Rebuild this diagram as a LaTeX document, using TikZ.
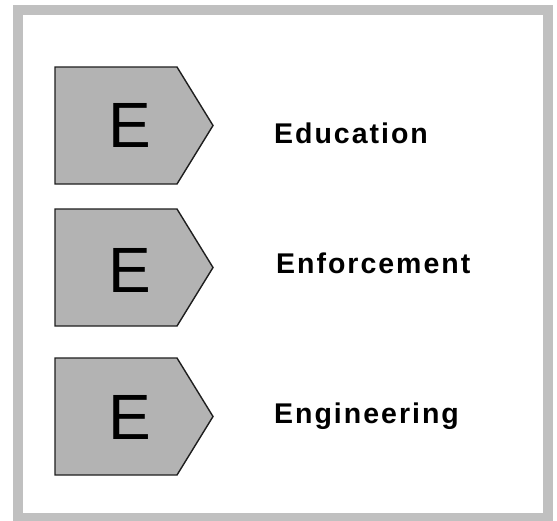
\documentclass[tikz,border=0pt]{standalone}
\usepackage{fontspec}
\setmainfont{Liberation Sans}
\newfontfamily\lblfont[LetterSpace=7]{Liberation Sans}
\definecolor{framegray}{HTML}{C0C0C0}
\definecolor{boxgray}{HTML}{B3B3B3}
\definecolor{boxline}{HTML}{1E1E1E}
\tikzset{
  frame/.style={draw=framegray, line width=10pt},
  pentabox/.style={fill=boxgray, draw=boxline, line width=1.4pt, line join=miter},
  eletter/.style={inner sep=0pt, font=\fontsize{64}{66}\selectfont},
  label/.style={inner sep=0pt, anchor=base west, font=\lblfont\bfseries\fontsize{28.5}{30}\selectfont}
}
\begin{document}
\begin{tikzpicture}[x=1pt,y=-1pt]
\useasboundingbox (0,0) rectangle (557,520);
\fill[white] (0,0) rectangle (557,520);
\draw[frame] (17.5,10) rectangle (548,517.5);
% pentagon boxes
\draw[pentabox] (55,67) -- (177,67) -- (213,125.5) -- (177,184) -- (55,184) -- cycle;
\draw[pentabox] (55,209) -- (177,209) -- (213,267.5) -- (177,326) -- (55,326) -- cycle;
\draw[pentabox] (55,358) -- (177,358) -- (213,416.5) -- (177,475) -- (55,475) -- cycle;
\node[eletter] (e1) at (130,125) {E};
\node[eletter] (e2) at (130,270) {E};
\node[eletter] (e3) at (130,417.5) {E};
\node[label] (l1) at (274,143) {Education};
\node[label] (l2) at (276,273) {Enforcement};
\node[label] (l3) at (274,423) {Engineering};
\end{tikzpicture}
\end{document}
